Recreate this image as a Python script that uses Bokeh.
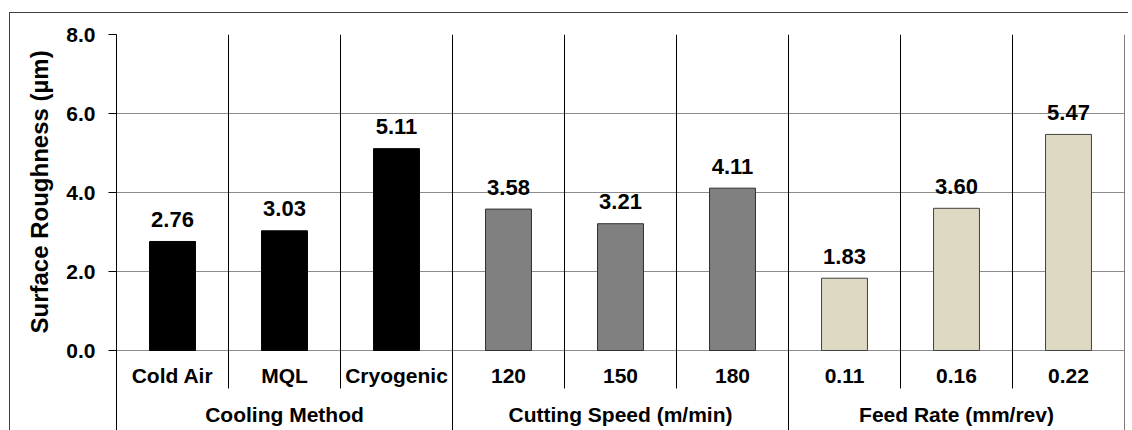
from bokeh.plotting import figure
from bokeh.models import FactorRange, Range1d, ColumnDataSource, FixedTicker, NumeralTickFormatter, Title
from bokeh.layouts import column
from bokeh.embed import file_html
from bokeh.resources import INLINE
from bokeh.core.properties import value

# ---- data ----
categories = ["Cold Air", "MQL", "Cryogenic", "120", "150", "180", "0.11", "0.16", "0.22"]
roughness = [2.76, 3.03, 5.11, 3.58, 3.21, 4.11, 1.83, 3.60, 5.47]
groups = ["Cooling Method", "Cutting Speed (m/min)", "Feed Rate (mm/rev)"]
group_sizes = [3, 3, 3]
group_fill = ["#000000", "#808080", "#DDD9C3"]
group_line = ["#000000", "#303030", "#404040"]
y_ticks = [0, 2, 4, 6, 8]
y_label = "Surface Roughness (\u00b5m)"

FONT = "Liberation Sans"

# ---- layout constants (pixels) ----
W = 1118
LEFT = 106
RIGHT = 4
TOP = 21
PLOT_PX = 316      # height of the 0..8 value area
BAND_PX = 80       # label band below the value area
Y_MAX = 8
ppu = PLOT_PX / Y_MAX
y_start = -BAND_PX / ppu
short_end = -38 / ppu

fills, lines = [], []
for g, n in enumerate(group_sizes):
    fills += [group_fill[g]] * n
    lines += [group_line[g]] * n

src = ColumnDataSource(dict(cat=categories, val=roughness, fill=fills, line=lines,
                            label=[f"{v:.2f}" for v in roughness]))

p = figure(x_range=FactorRange(*categories, range_padding=0), y_range=Range1d(y_start, Y_MAX),
           width=W, height=TOP + PLOT_PX + BAND_PX, output_backend="svg", toolbar_location=None,
           x_axis_location=None, min_border_left=LEFT, min_border_right=RIGHT,
           min_border_top=TOP, min_border_bottom=0)
p.outline_line_color = None
p.background_fill_color = "white"
p.xgrid.visible = False
p.ygrid.grid_line_color = "#8c8c8c"
p.ygrid.grid_line_width = 1

ax = p.yaxis[0]
ax.ticker = FixedTicker(ticks=y_ticks)
ax.formatter = NumeralTickFormatter(format="0.0")
ax.axis_line_color = "black"
ax.major_tick_line_color = "black"
ax.major_tick_out = 8
ax.major_tick_in = 0
ax.minor_tick_line_color = None
ax.major_label_text_font = FONT
ax.major_label_text_font_style = "bold"
ax.major_label_text_font_size = "21px"
ax.major_label_text_color = "black"
ax.major_label_standoff = 13

# y axis title, placed so that it sits over the 0..8 value area
p.add_layout(Title(text=y_label, align="left", offset=97, standoff=22,
                   text_font=FONT, text_font_style="bold", text_font_size="24px",
                   text_color="black"), "left")

# separators
group_bounds, short_bounds, group_centers = [], [], []
i = 0
for g, n in enumerate(group_sizes):
    group_bounds.append((categories[i], -0.5))
    for k in range(1, n):
        short_bounds.append((categories[i + k], -0.5))
    group_centers.append(categories[i + n // 2])
    i += n
group_bounds.append((categories[-1], 0.5))

p.segment(x0=short_bounds, y0=Y_MAX, x1=short_bounds, y1=short_end, line_color="black", line_width=1)
p.segment(x0=group_bounds, y0=Y_MAX, x1=group_bounds, y1=y_start, line_color="black", line_width=1)

p.vbar(x="cat", top="val", width=0.41, fill_color="fill", line_color="line",
       line_width=1, source=src)
p.text(x="cat", y="val", text="label", source=src, text_align="center",
       text_baseline="alphabetic", y_offset=-22, text_font=value(FONT),
       text_font_style="bold", text_font_size="22px", text_color="black")

# category and group labels below the zero line
p.text(x=categories, y=[0] * len(categories), text=categories, text_align="center",
       text_baseline="alphabetic", y_offset=25, text_font=value(FONT), text_font_style="bold",
       text_font_size="21px", text_color="black")
p.text(x=group_centers, y=[0] * len(groups), text=groups, text_align="center",
       text_baseline="alphabetic", y_offset=64, text_font=value(FONT), text_font_style="bold",
       text_font_size="21px", text_color="black")

layout = column(p, margin=(12, 0, 0, 9),
                styles={"border-top": "1px solid #404040", "border-left": "1px solid #404040"})

open("out.html", "w").write(file_html(layout, INLINE))
